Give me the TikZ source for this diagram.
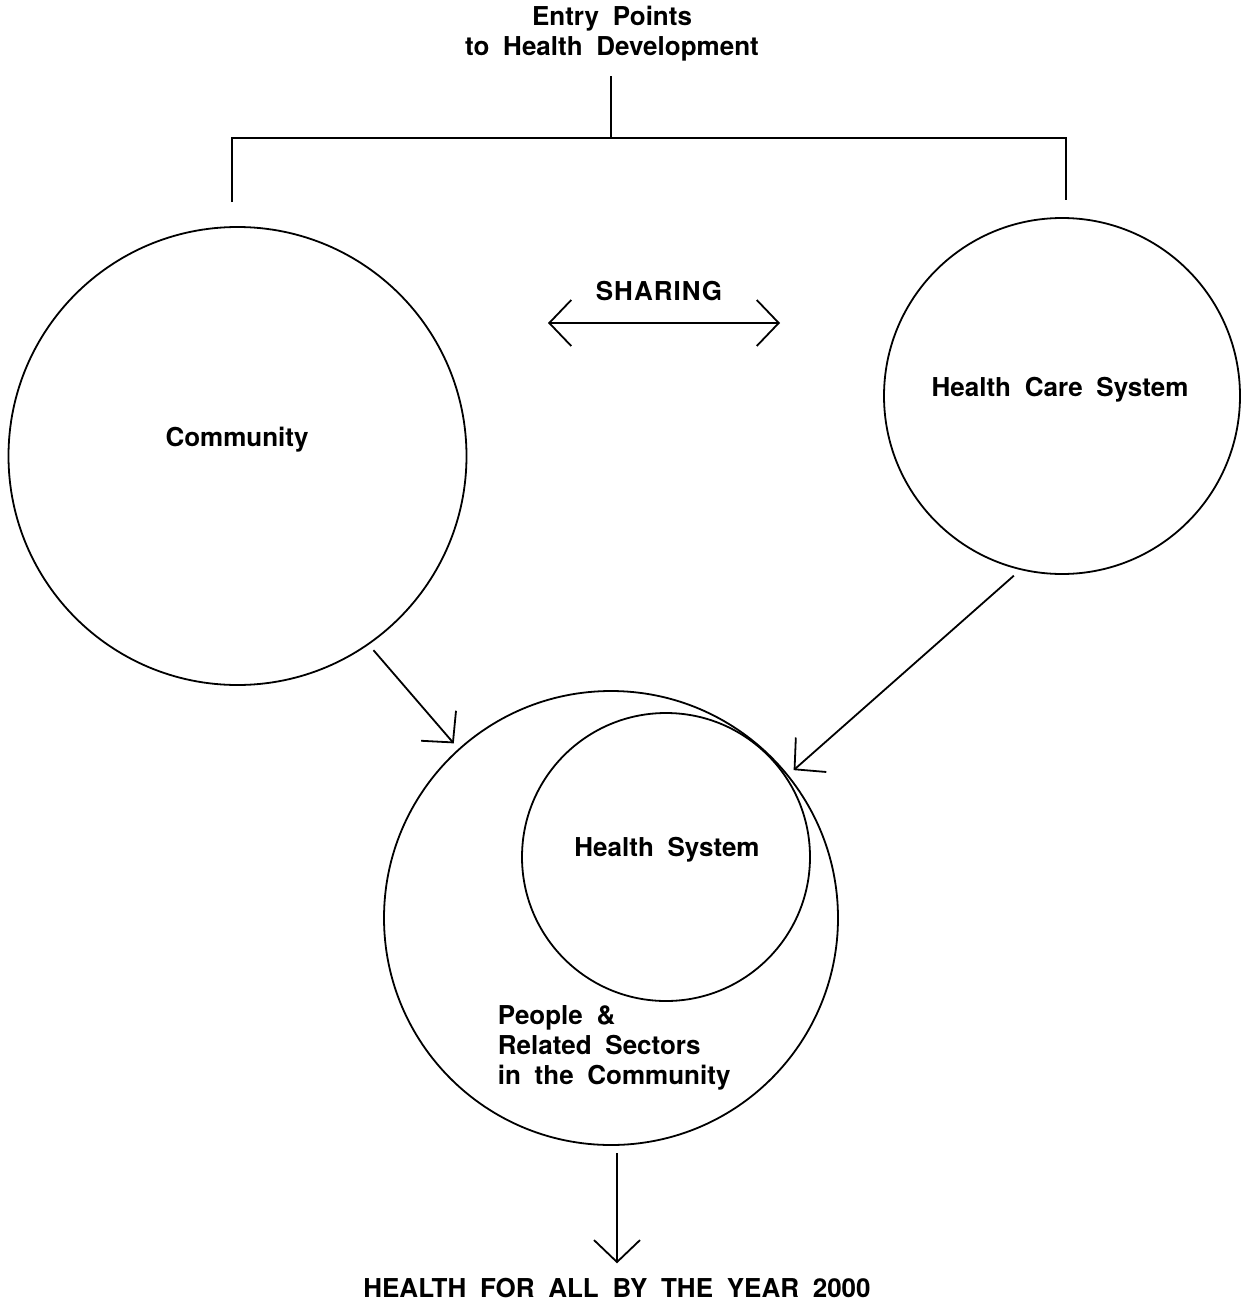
\documentclass[tikz,border=0pt]{standalone}
\usepackage{fontspec}
\setmainfont{TeX Gyre Heros}[WordSpace=1.9]
\usetikzlibrary{arrows.meta}

\begin{document}
\begin{tikzpicture}[x=1pt, y=-1pt, line width=1.8pt,
    >={Straight Barb[length=22pt, width=46pt]},
    ring/.style={draw, circle, inner sep=0pt, outer sep=8pt},
    txt/.style={font=\fontsize{26}{30}\selectfont\bfseries, inner sep=0pt}]
    \useasboundingbox (0,0) rectangle (1242,1303);

    \node[txt, align=center] (entry) at (612,34) {Entry Points\\to Health Development};

    \node[ring, minimum size=458pt] (community) at (237.5,456) {};
    \node[ring, minimum size=356pt] (care) at (1062,396) {};
    \node[ring, minimum size=454pt] (people) at (611,918) {};
    \node[ring, minimum size=288pt] (health) at (666,857) {};

    \node[txt] (communitylabel) at (237,440) {Community};
    \node[txt] (carelabel) at (1060,390) {Health Care System};
    \node[txt] (healthlabel) at (667,850) {Health System};
    \node[txt, align=left, anchor=north west] (peoplelabel) at (497,1005) {People \&\\Related Sectors\\in the Community};
    \node[txt, font=\fontsize{26}{30}\selectfont\bfseries\addfontfeatures{LetterSpace=4}] (sharing) at (659,291) {SHARING};
    \node[txt] (goal) at (617,1288) {HEALTH FOR ALL BY THE YEAR 2000};

    % bracket
    \coordinate (fork) at (611,138);
    \coordinate (leftfoot) at (232,202);
    \coordinate (rightfoot) at (1066,200);
    \draw (fork |- entry.south) ++(0,14) -- (fork);
    \draw (leftfoot) |- (fork) -| (rightfoot);

    \coordinate (shareleft) at (548,323);
    \coordinate (shareright) at (780,323);
    \draw[<->] (shareleft) -- (shareright);

    \draw[->] (community.-55) -- (people.132);
    \draw[->] (care.255) -- (people.39);
    \draw[->] (goal.north |- people.south) -- ([yshift=14pt]goal.north);
\end{tikzpicture}
\end{document}
